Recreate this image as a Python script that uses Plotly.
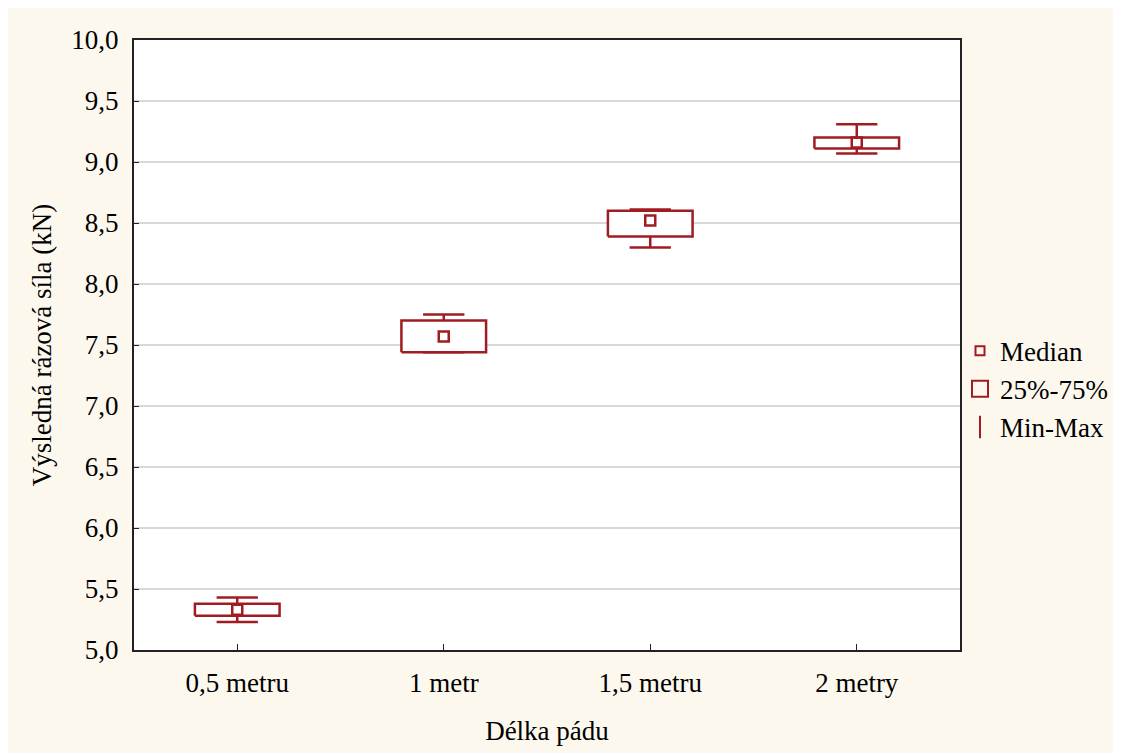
import plotly.graph_objects as go

categories = ["0,5 metru", "1 metr", "1,5 metru", "2 metry"]
mins = [5.23, 7.44, 8.30, 9.07]
q1s = [5.28, 7.44, 8.39, 9.11]
medians = [5.33, 7.57, 8.52, 9.16]
q3s = [5.38, 7.70, 8.60, 9.20]
maxs = [5.43, 7.75, 8.61, 9.31]

RED = "#a01c22"
FONT = "Liberation Serif"
FS = 27
BOX_HALF = 0.205
CAP_HALF = 0.1

pos = list(range(len(categories)))

bx, by = [], []
for i, p in enumerate(pos):
    bx += [p - BOX_HALF, p + BOX_HALF, p + BOX_HALF, p - BOX_HALF, p - BOX_HALF, None]
    by += [q1s[i], q1s[i], q3s[i], q3s[i], q1s[i], None]

wx, wy = [], []
for i, p in enumerate(pos):
    wx += [p, p, None, p - CAP_HALF, p + CAP_HALF, None]
    wy += [q3s[i], maxs[i], None, maxs[i], maxs[i], None]
    wx += [p, p, None, p - CAP_HALF, p + CAP_HALF, None]
    wy += [q1s[i], mins[i], None, mins[i], mins[i], None]

fig = go.Figure()
fig.add_trace(go.Scatter(x=wx, y=wy, mode="lines", line=dict(color=RED, width=2.5),
                         showlegend=False, hoverinfo="skip"))
fig.add_trace(go.Scatter(x=bx, y=by, mode="lines", fill="toself", fillcolor="white",
                         line=dict(color=RED, width=2.5), showlegend=False, hoverinfo="skip"))
fig.add_trace(go.Scatter(x=pos, y=medians, mode="markers",
                         marker=dict(symbol="square-open", size=10, color=RED,
                                     line=dict(color=RED, width=2.5)),
                         showlegend=False))

fig.add_trace(go.Scatter(x=[None], y=[None], mode="markers", name="Median",
                         marker=dict(symbol="square-open", size=9, color=RED,
                                     line=dict(color=RED, width=2))))
fig.add_trace(go.Scatter(x=[None], y=[None], mode="markers", name="25%-75%",
                         marker=dict(symbol="square-open", size=16, color=RED,
                                     line=dict(color=RED, width=2))))
fig.add_trace(go.Scatter(x=[None], y=[None], mode="markers", name="Min-Max",
                         marker=dict(symbol="line-ns-open", size=16, color=RED,
                                     line=dict(color=RED, width=2))))

fig.update_layout(
    width=1121, height=753,
    paper_bgcolor="#fdf8ee", plot_bgcolor="white",
    margin=dict(l=126, r=169, t=32, b=111),
    separators=", ",
    font=dict(family=FONT, size=FS, color="black"),
    legend=dict(x=1.0, y=0.53, xanchor="left", yanchor="top",
                bgcolor="rgba(0,0,0,0)", itemsizing="trace", itemwidth=30,
                font=dict(family=FONT, size=FS), tracegroupgap=0),
    xaxis=dict(range=[-0.5, 3.5], tickvals=pos, ticktext=categories,
               showgrid=False, zeroline=False, showline=True, linecolor="#222",
               linewidth=2, mirror=True, ticks="inside", ticklen=6, tickcolor="#222",
               ticklabelstandoff=8,
               tickfont=dict(family=FONT, size=FS),
               title=dict(text="Délka pádu", standoff=24, font=dict(family=FONT, size=FS))),
    yaxis=dict(range=[5.0, 10.0], tickvals=[5.0 + 0.5 * k for k in range(11)],
               tickformat=".1f", showgrid=True, gridcolor="#d9d9d9", gridwidth=1.5,
               zeroline=False, showline=True, linecolor="#222", linewidth=2, mirror=True,
               ticks="inside", ticklen=5, tickcolor="#222",
               ticklabelstandoff=8,
               tickfont=dict(family=FONT, size=FS),
               title=dict(text="Výsledná rázová síla (kN)", standoff=12,
                          font=dict(family=FONT, size=FS))),
)

fig.write_html("out.html")
